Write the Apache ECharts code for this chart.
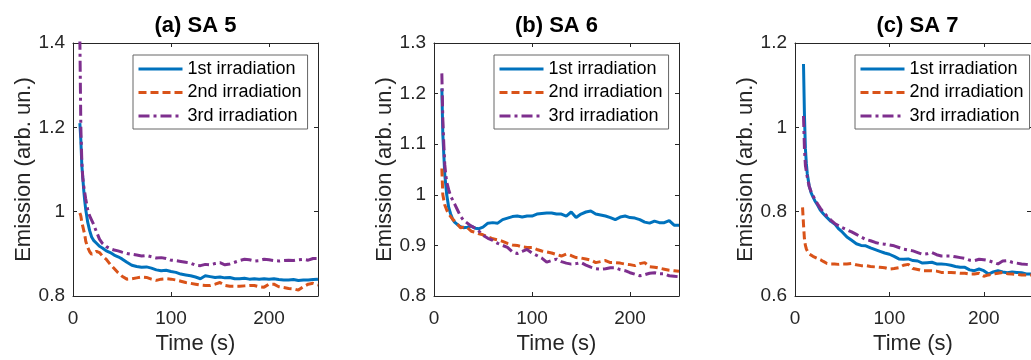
<!DOCTYPE html>
<html><head><meta charset="utf-8">
<script src="https://cdn.jsdelivr.net/npm/echarts@6/dist/echarts.min.js"></script>
<style>html,body{margin:0;padding:0;background:#fff}#c{width:1031px;height:360px}</style>
</head><body><div id="c"></div>
<script>
const seriesNames = ['1st irradiation', '2nd irradiation', '3rd irradiation'];
const panelTitles = ['(a) SA 5', '(b) SA 6', '(c) SA 7'];
const xTitle = 'Time (s)';
const yTitle = 'Emission (arb. un.)';
const xMin = 0, xMax = 250, xStep = 100;
const yMin = [0.8, 0.8, 0.6];
const yMax = [1.4, 1.3, 1.2];
const yStep = [0.2, 0.1, 0.2];

// Panel (a) SA 5
const tA = [7, 8, 9, 10, 11, 12, 13, 15, 17, 19, 21, 24, 27, 30, 34, 38, 42, 46, 50, 55, 60, 65, 70, 75, 80, 85, 90, 95, 100, 105, 110, 115, 120, 125, 130, 135, 140, 145, 150, 155, 160, 165, 170, 175, 180, 185, 190, 195, 200, 205, 210, 215, 220, 225, 230, 235, 240, 245, 250];
const a1 = [1.21, 1.17, 1.11, 1.08, 1.05, 1.025, 1.005, 0.975, 0.955, 0.94, 0.932, 0.925, 0.918, 0.914, 0.907, 0.903, 0.897, 0.893, 0.888, 0.88, 0.873, 0.87, 0.868, 0.869, 0.866, 0.862, 0.86, 0.861, 0.858, 0.856, 0.852, 0.85, 0.848, 0.845, 0.841, 0.848, 0.846, 0.844, 0.845, 0.843, 0.844, 0.841, 0.841, 0.842, 0.84, 0.841, 0.84, 0.841, 0.84, 0.841, 0.839, 0.838, 0.838, 0.839, 0.837, 0.838, 0.838, 0.839, 0.84];
const a2 = [0.997, 0.99, 0.975, 0.965, 0.955, 0.945, 0.93, 0.915, 0.905, 0.899, 0.9, 0.906, 0.903, 0.895, 0.887, 0.875, 0.865, 0.855, 0.847, 0.84, 0.841, 0.843, 0.845, 0.844, 0.84, 0.837, 0.84, 0.841, 0.84, 0.838, 0.835, 0.832, 0.83, 0.828, 0.826, 0.825, 0.825, 0.828, 0.832, 0.825, 0.823, 0.823, 0.823, 0.824, 0.825, 0.825, 0.822, 0.821, 0.828, 0.828, 0.822, 0.82, 0.818, 0.817, 0.814, 0.822, 0.828, 0.83, 0.826];
const a3 = [1.41, 1.2, 1.12, 1.08, 1.06, 1.045, 1.03, 1.005, 0.99, 0.98, 0.97, 0.952, 0.935, 0.925, 0.917, 0.912, 0.909, 0.907, 0.904, 0.901, 0.899, 0.897, 0.895, 0.896, 0.893, 0.89, 0.891, 0.889, 0.885, 0.884, 0.882, 0.88, 0.878, 0.873, 0.872, 0.875, 0.874, 0.877, 0.879, 0.874, 0.876, 0.88, 0.884, 0.887, 0.886, 0.883, 0.884, 0.887, 0.886, 0.884, 0.883, 0.884, 0.885, 0.884, 0.886, 0.887, 0.885, 0.889, 0.889];

// Panel (b) SA 6
const tB = [8, 9, 10, 11, 12, 13, 15, 17, 19, 21, 24, 27, 30, 34, 38, 42, 46, 50, 55, 60, 65, 70, 75, 80, 85, 90, 95, 100, 105, 110, 115, 120, 125, 130, 135, 140, 145, 150, 155, 160, 165, 170, 175, 180, 185, 190, 195, 200, 205, 210, 215, 220, 225, 230, 235, 240, 245, 250];
const b1 = [1.21, 1.12, 1.08, 1.04, 1.02, 1.0, 0.975, 0.962, 0.952, 0.946, 0.941, 0.937, 0.935, 0.936, 0.938, 0.934, 0.933, 0.936, 0.944, 0.945, 0.944, 0.951, 0.954, 0.957, 0.958, 0.956, 0.958, 0.958, 0.962, 0.963, 0.964, 0.964, 0.962, 0.962, 0.958, 0.966, 0.955, 0.962, 0.966, 0.968, 0.962, 0.96, 0.958, 0.955, 0.951, 0.956, 0.958, 0.955, 0.954, 0.951, 0.946, 0.944, 0.948, 0.945, 0.945, 0.949, 0.94, 0.94];
const b2 = [1.052, 1.0, 0.99, 0.98, 0.975, 0.97, 0.962, 0.957, 0.952, 0.948, 0.942, 0.935, 0.936, 0.935, 0.928, 0.926, 0.923, 0.921, 0.917, 0.913, 0.911, 0.908, 0.904, 0.901, 0.9, 0.897, 0.896, 0.896, 0.892, 0.889, 0.887, 0.885, 0.882, 0.879, 0.883, 0.88, 0.876, 0.875, 0.873, 0.871, 0.866, 0.868, 0.87, 0.866, 0.866, 0.865, 0.863, 0.862, 0.86, 0.864, 0.866, 0.858, 0.857, 0.855, 0.853, 0.851, 0.85, 0.849];
const b3 = [1.24, 1.15, 1.1, 1.06, 1.04, 1.025, 1.01, 0.997, 0.99, 0.982, 0.97, 0.958, 0.95, 0.944, 0.938, 0.934, 0.928, 0.92, 0.914, 0.91, 0.904, 0.9, 0.896, 0.887, 0.884, 0.888, 0.892, 0.885, 0.88, 0.875, 0.867, 0.87, 0.873, 0.868, 0.865, 0.863, 0.864, 0.866, 0.861, 0.857, 0.854, 0.853, 0.854, 0.856, 0.856, 0.852, 0.85, 0.846, 0.843, 0.84, 0.842, 0.845, 0.846, 0.844, 0.844, 0.84, 0.839, 0.838];

// Panel (c) SA 7
const tC = [8, 9, 10, 11, 12, 13, 15, 17, 19, 21, 24, 27, 30, 34, 38, 42, 46, 50, 55, 60, 65, 70, 75, 80, 85, 90, 95, 100, 105, 110, 115, 120, 125, 130, 135, 140, 145, 150, 155, 160, 165, 170, 175, 180, 185, 190, 195, 200, 205, 210, 215, 220, 225, 230, 235, 240, 245, 250];
const c1 = [null, 1.15, 1.03, 0.95, 0.915, 0.89, 0.862, 0.845, 0.835, 0.826, 0.815, 0.803, 0.795, 0.786, 0.777, 0.771, 0.76, 0.752, 0.74, 0.732, 0.724, 0.72, 0.719, 0.714, 0.71, 0.706, 0.702, 0.699, 0.694, 0.688, 0.687, 0.688, 0.684, 0.683, 0.678, 0.679, 0.68, 0.676, 0.676, 0.675, 0.673, 0.67, 0.668, 0.668, 0.662, 0.66, 0.664, 0.66, 0.652, 0.657, 0.66, 0.657, 0.655, 0.657, 0.656, 0.655, 0.652, 0.652];
const c2 = [0.81, 0.77, 0.735, 0.72, 0.712, 0.707, 0.7, 0.696, 0.694, 0.692, 0.689, 0.686, 0.682, 0.677, 0.676, 0.676, 0.675, 0.676, 0.676, 0.677, 0.674, 0.672, 0.672, 0.67, 0.669, 0.668, 0.667, 0.664, 0.665, 0.667, 0.673, 0.675, 0.665, 0.663, 0.66, 0.66, 0.66, 0.659, 0.656, 0.656, 0.656, 0.655, 0.654, 0.654, 0.652, 0.652, 0.654, 0.647, 0.65, 0.652, 0.654, 0.656, 0.653, 0.652, 0.651, 0.65, 0.65, 0.65];
const c3 = [null, 1.027, 0.95, 0.91, 0.895, 0.882, 0.86, 0.848, 0.838, 0.83, 0.818, 0.808, 0.799, 0.789, 0.78, 0.772, 0.767, 0.762, 0.757, 0.752, 0.746, 0.74, 0.734, 0.731, 0.727, 0.724, 0.723, 0.721, 0.719, 0.715, 0.711, 0.709, 0.707, 0.703, 0.699, 0.7, 0.703, 0.698, 0.695, 0.695, 0.695, 0.693, 0.691, 0.689, 0.685, 0.684, 0.687, 0.686, 0.684, 0.68, 0.676, 0.683, 0.684, 0.68, 0.678, 0.676, 0.675, 0.674];

const panels = [
  { t: tA, v: [a1, a2, a3] },
  { t: tB, v: [b1, b2, b3] },
  { t: tC, v: [c1, c2, c3] }
];

const FONT = '"Liberation Sans", Arial, Helvetica, sans-serif';
const colors = ['#0072BD', '#D95319', '#7E2F8E'];
const dashes = ['solid', [8, 4], [11, 4, 3, 4]];
const gridLeft = [73, 434, 795];
const titleX = [195.5, 556.5, 917.5];
const legendLeft = [133, 494, 855];
const axisColor = '#262626';

const grid = [], xAxis = [], yAxis = [], series = [], title = [], legend = [];
panels.forEach((p, i) => {
  grid.push({ left: gridLeft[i], top: 43, width: 245, height: 256, containLabel: false });
  const axLine = { show: true, onZero: false, lineStyle: { color: axisColor, width: 1 } };
  const tick = { show: true, inside: true, length: 4, lineStyle: { color: axisColor, width: 1 } };
  xAxis.push({
    type: 'value', gridIndex: i, position: 'bottom', min: xMin, max: xMax, interval: xStep,
    axisLine: axLine, axisTick: tick, splitLine: { show: false },
    axisLabel: { color: axisColor, fontSize: 19, fontFamily: FONT, margin: 13, showMaxLabel: false },
    name: xTitle, nameLocation: 'middle', nameGap: 37,
    nameTextStyle: { color: axisColor, fontSize: 22, fontFamily: FONT }
  });
  xAxis.push({
    type: 'value', gridIndex: i, position: 'top', min: xMin, max: xMax, interval: xStep,
    axisLine: axLine, axisTick: tick, splitLine: { show: false }, axisLabel: { show: false }
  });
  yAxis.push({
    type: 'value', gridIndex: i, position: 'left', min: yMin[i], max: yMax[i], interval: yStep[i],
    axisLine: axLine, axisTick: tick, splitLine: { show: false },
    axisLabel: { color: axisColor, fontSize: 19, fontFamily: FONT, margin: 8 },
    name: yTitle, nameLocation: 'middle', nameGap: 38,
    nameTextStyle: { color: axisColor, fontSize: 22, fontFamily: FONT }
  });
  yAxis.push({
    type: 'value', gridIndex: i, position: 'right', min: yMin[i], max: yMax[i], interval: yStep[i],
    axisLine: axLine, axisTick: tick, splitLine: { show: false }, axisLabel: { show: false }
  });
  p.v.forEach((vals, k) => {
    series.push({
      name: seriesNames[k], type: 'line', xAxisIndex: i * 2, yAxisIndex: i * 2,
      data: p.t.map((tt, j) => [tt, vals[j]]),
      showSymbol: false, symbol: 'none', smooth: false, connectNulls: false, clip: true,
      lineStyle: { color: colors[k], width: 3, type: dashes[k] },
      itemStyle: { color: colors[k] },
      emphasis: { disabled: true }, animation: false
    });
  });
  title.push({
    text: panelTitles[i], left: titleX[i], top: 15, textAlign: 'center', padding: 0,
    textStyle: { fontSize: 22, fontWeight: 'bold', color: '#000', fontFamily: FONT }
  });
  legend.push({
    data: seriesNames, orient: 'vertical', left: legendLeft[i], top: 55,
    itemWidth: 44, itemHeight: 14, itemGap: 3.5, padding: [4, 6, 3, 4],
    backgroundColor: '#fff', borderColor: '#666', borderWidth: 1, borderRadius: 0,
    selectedMode: false,
    itemStyle: { opacity: 0, borderWidth: 0 },
    lineStyle: { width: 3 },
    textStyle: { fontSize: 18, fontFamily: FONT, color: '#000', lineHeight: 20 }
  });
});

const chart = echarts.init(document.getElementById('c'), null, { renderer: 'canvas' });
chart.setOption({ animation: false, backgroundColor: '#fff', grid, xAxis, yAxis, series, title, legend });
</script></body></html>
